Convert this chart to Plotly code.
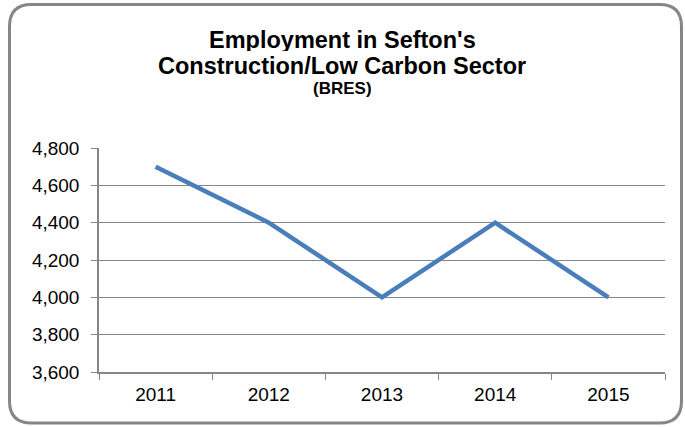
import plotly.graph_objects as go

years = ["2011", "2012", "2013", "2014", "2015"]
employment = [4700, 4400, 4000, 4400, 4000]
y_ticks = [3600, 3800, 4000, 4200, 4400, 4600, 4800]

W, H = 685, 427
L, R, T, B = 99, 20, 148, 55
pw, ph = W - L - R, H - T - B

def px(x):
    return (x - L) / pw

def py(y):
    return (H - B - y) / ph

fig = go.Figure()
fig.add_trace(go.Scatter(
    x=years, y=employment, mode="lines",
    line=dict(color="#4A7EBB", width=4.5),
    showlegend=False, hoverinfo="skip",
))

# rounded border
x0, x1, y0, y1, r = 9.5, 681.5, 4.5, 423, 22
pts = [
    f"M {px(x0 + r)} {py(y0)}",
    f"L {px(x1 - r)} {py(y0)}",
    f"Q {px(x1)} {py(y0)} {px(x1)} {py(y0 + r)}",
    f"L {px(x1)} {py(y1 - r)}",
    f"Q {px(x1)} {py(y1)} {px(x1 - r)} {py(y1)}",
    f"L {px(x0 + r)} {py(y1)}",
    f"Q {px(x0)} {py(y1)} {px(x0)} {py(y1 - r)}",
    f"L {px(x0)} {py(y0 + r)}",
    f"Q {px(x0)} {py(y0)} {px(x0 + r)} {py(y0)}",
    "Z",
]
fig.add_shape(type="path", xref="paper", yref="paper", path=" ".join(pts),
              line=dict(color="#868686", width=3), layer="below")

font = "Liberation Sans, Arial, sans-serif"
for txt, yy, sz in [("<b>Employment in Sefton's</b>", 39, 23.5),
                    ("<b>Construction/Low Carbon Sector</b>", 65, 23.5),
                    ("<b>(BRES)</b>", 89, 17)]:
    fig.add_annotation(xref="paper", yref="paper", x=px(342), y=py(yy),
                       xanchor="center", yanchor="middle", height=int(sz),
                       borderpad=0, text=txt, showarrow=False,
                       font=dict(family=font, size=sz, color="black"))

fig.update_layout(
    width=W, height=H,
    margin=dict(l=L, r=R, t=T, b=B, pad=0),
    paper_bgcolor="white", plot_bgcolor="white",
    font=dict(family=font, size=19, color="black"),
    xaxis=dict(
        type="category", tickson="boundaries", ticks="outside", ticklen=6,
        tickcolor="#868686", showline=True, linecolor="#868686", linewidth=1.5,
        showgrid=False, range=[-0.5, 4.5], fixedrange=True,
        ticklabelstandoff=4,
    ),
    yaxis=dict(
        range=[3600, 4800], tickvals=y_ticks, tickformat=",d",
        ticks="outside", ticklen=6, tickcolor="#868686",
        showline=True, linecolor="#868686", linewidth=1.5,
        showgrid=True, gridcolor="#868686", gridwidth=1.2,
        zeroline=False, fixedrange=True, ticklabelstandoff=8,
    ),
)

fig.write_html("out.html", config={"displayModeBar": False},
               post_script="document.body.style.margin='0';")
